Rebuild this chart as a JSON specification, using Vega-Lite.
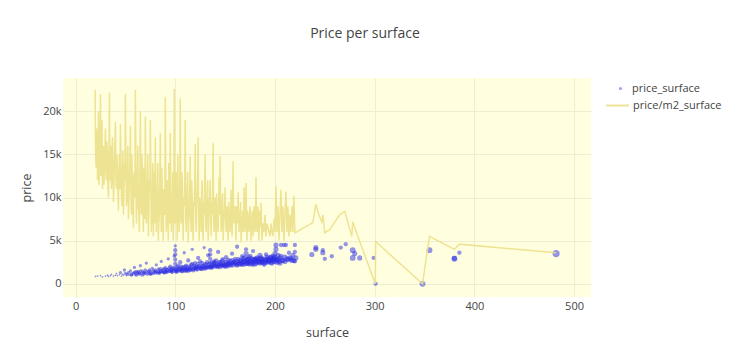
{
  "$schema": "https://vega.github.io/schema/vega-lite/v6.json",
  "width": 528,
  "height": 219,
  "autosize": {"type": "none"},
  "padding": {"left": 63, "top": 78, "right": 139, "bottom": 64},
  "background": "white",
  "title": {"text": "Price per surface", "font": "Open Sans", "fontSize": 14, "fontWeight": "normal", "color": "#444", "anchor": "middle", "dx": 38, "offset": 37},
  "datasets": {
    "line": [
      {"s":19.6,"v":22500},{"s":20,"v":16000},{"s":21,"v":14000},{"s":22,"v":12000},{"s":23,"v":20000},{"s":24,"v":13000},{"s":25,"v":22000},{"s":26,"v":14000},{"s":27,"v":11000},{"s":28,"v":16000},{"s":29,"v":13000},{"s":30,"v":18000},{"s":31,"v":12000},{"s":32,"v":15000},{"s":33,"v":10000},{"s":34,"v":22200},{"s":35,"v":13000},{"s":36,"v":11000},{"s":37,"v":17000},{"s":38,"v":9500},{"s":39,"v":14000},{"s":40,"v":18800},{"s":41,"v":11000},{"s":42,"v":13000},{"s":43,"v":8500},{"s":44,"v":15000},{"s":45,"v":18500},{"s":46,"v":10000},{"s":47,"v":12000},{"s":48,"v":8000},{"s":49,"v":14000},{"s":50,"v":22000},{"s":51,"v":9000},{"s":52,"v":13000},{"s":53,"v":7500},{"s":54,"v":12000},{"s":55,"v":18300},{"s":56,"v":8000},{"s":57,"v":11000},{"s":58,"v":6500},{"s":59,"v":13000},{"s":60,"v":22500},{"s":61,"v":7000},{"s":62,"v":12000},{"s":63,"v":9000},{"s":64,"v":6000},{"s":65,"v":20000},{"s":66,"v":8000},{"s":67,"v":13000},{"s":68,"v":6000},{"s":69,"v":10000},{"s":70,"v":19400},{"s":71,"v":7000},{"s":72,"v":11000},{"s":73,"v":5500},{"s":74,"v":12000},{"s":75,"v":19000},{"s":76,"v":6000},{"s":77,"v":9000},{"s":78,"v":5500},{"s":79,"v":13000},{"s":80,"v":17000},{"s":81,"v":6000},{"s":82,"v":10000},{"s":83,"v":5000},{"s":84,"v":8000},{"s":85,"v":17500},{"s":86,"v":6000},{"s":87,"v":11000},{"s":88,"v":5000},{"s":89,"v":9000},{"s":90,"v":21700},{"s":91,"v":6000},{"s":92,"v":12000},{"s":93,"v":5000},{"s":94,"v":10000},{"s":95,"v":17500},{"s":96,"v":6000},{"s":97,"v":9000},{"s":98,"v":5000},{"s":99,"v":22600},{"s":100,"v":7000},{"s":101,"v":13000},{"s":102,"v":5000},{"s":103,"v":10000},{"s":104,"v":6000},{"s":105,"v":21500},{"s":106,"v":7000},{"s":107,"v":12000},{"s":108,"v":5000},{"s":109,"v":9000},{"s":110,"v":19000},{"s":111,"v":6000},{"s":112,"v":11000},{"s":113,"v":4800},{"s":114,"v":8000},{"s":115,"v":14800},{"s":116,"v":6000},{"s":117,"v":10000},{"s":118,"v":5000},{"s":119,"v":9000},{"s":120,"v":16200},{"s":121,"v":6000},{"s":122,"v":11000},{"s":123,"v":17000},{"s":124,"v":5000},{"s":125,"v":9000},{"s":126,"v":6000},{"s":127,"v":12000},{"s":128,"v":5000},{"s":129,"v":8000},{"s":130,"v":15000},{"s":131,"v":6000},{"s":132,"v":10000},{"s":133,"v":5000},{"s":134,"v":9000},{"s":135,"v":12000},{"s":136,"v":5500},{"s":137,"v":8000},{"s":138,"v":16300},{"s":139,"v":6000},{"s":140,"v":10000},{"s":141,"v":5000},{"s":142,"v":8000},{"s":143,"v":6000},{"s":144,"v":12400},{"s":145,"v":14800},{"s":146,"v":6000},{"s":147,"v":9000},{"s":148,"v":5000},{"s":149,"v":8000},{"s":150,"v":11200},{"s":151,"v":6000},{"s":152,"v":9000},{"s":153,"v":5000},{"s":154,"v":8000},{"s":155,"v":6000},{"s":156,"v":10900},{"s":157,"v":5500},{"s":158,"v":14200},{"s":159,"v":7000},{"s":160,"v":9000},{"s":161,"v":5000},{"s":162,"v":8000},{"s":163,"v":10600},{"s":164,"v":6000},{"s":165,"v":8000},{"s":166,"v":4800},{"s":167,"v":7000},{"s":168,"v":6000},{"s":169,"v":11200},{"s":170,"v":6000},{"s":171,"v":11700},{"s":172,"v":5000},{"s":173,"v":8000},{"s":174,"v":6000},{"s":175,"v":9000},{"s":176,"v":5000},{"s":177,"v":7000},{"s":178,"v":5500},{"s":179,"v":9000},{"s":180,"v":6000},{"s":181,"v":12400},{"s":182,"v":6000},{"s":183,"v":9000},{"s":184,"v":5000},{"s":185,"v":7000},{"s":186,"v":9400},{"s":187,"v":5000},{"s":188,"v":7000},{"s":189,"v":6000},{"s":190,"v":8000},{"s":191,"v":5500},{"s":192,"v":7000},{"s":193,"v":6500},{"s":194,"v":6000},{"s":195,"v":5500},{"s":196,"v":7000},{"s":197,"v":6000},{"s":198,"v":5500},{"s":199,"v":7500},{"s":200,"v":6000},{"s":201,"v":11300},{"s":202,"v":6000},{"s":203,"v":9000},{"s":204,"v":5000},{"s":205,"v":8000},{"s":206,"v":10900},{"s":207,"v":6000},{"s":208,"v":9000},{"s":209,"v":5000},{"s":210,"v":8000},{"s":211,"v":10700},{"s":212,"v":6000},{"s":213,"v":9000},{"s":214,"v":5500},{"s":215,"v":8000},{"s":216,"v":6000},{"s":217,"v":9000},{"s":218,"v":6000},{"s":219,"v":10200},{"s":220,"v":5900},{"s":238,"v":7100},{"s":241,"v":9200},{"s":244,"v":8000},{"s":247,"v":7200},{"s":248,"v":8000},{"s":250,"v":5900},{"s":255,"v":6300},{"s":265,"v":8000},{"s":270,"v":8400},{"s":277,"v":5500},{"s":278,"v":7200},{"s":280,"v":6500},{"s":300.6,"v":0},{"s":301,"v":4900},{"s":348,"v":0},{"s":355,"v":5500},{"s":380,"v":4000},{"s":385,"v":4600},{"s":482,"v":3600},
      {"s":20.5,"v":13500},{"s":21.5,"v":18000},{"s":22.5,"v":15000},{"s":23.5,"v":11500},{"s":24.5,"v":17000},{"s":25.5,"v":12500},{"s":26.5,"v":19000},{"s":27.5,"v":13000},{"s":28.5,"v":11500},{"s":29.5,"v":15500},{"s":30.5,"v":13500},{"s":31.5,"v":16500},{"s":32.5,"v":11000},{"s":33.5,"v":14000},{"s":34.5,"v":12000},{"s":35.5,"v":16000},{"s":36.5,"v":12500},{"s":37.5,"v":14500},{"s":38.5,"v":11500},{"s":39.5,"v":16500},{"s":40.5,"v":12000},{"s":41.5,"v":15000},{"s":42.5,"v":10500},{"s":43.5,"v":13000},{"s":44.5,"v":11000},{"s":45.5,"v":14000},{"s":46.5,"v":9000},{"s":47.5,"v":15500},{"s":48.5,"v":10500},{"s":49.5,"v":12000},{"s":50.5,"v":14500},{"s":51.5,"v":10000},{"s":52.5,"v":16000},{"s":53.5,"v":9500},{"s":54.5,"v":14000},{"s":55.5,"v":11000},{"s":56.5,"v":15000},{"s":57.5,"v":8500},{"s":58.5,"v":12500},{"s":59.5,"v":10000},{"s":60.5,"v":14000},{"s":61.5,"v":9500},{"s":62.5,"v":16000},{"s":63.5,"v":8000},{"s":64.5,"v":12500},{"s":65.5,"v":10000},{"s":66.5,"v":15000},{"s":67.5,"v":8500},{"s":68.5,"v":13500},{"s":69.5,"v":7500},{"s":70.5,"v":12000},{"s":71.5,"v":9000},{"s":72.5,"v":15000},{"s":73.5,"v":8000},{"s":74.5,"v":10500},{"s":75.5,"v":13000},{"s":76.5,"v":7500},{"s":77.5,"v":14000},{"s":78.5,"v":9000},{"s":79.5,"v":7000},{"s":80.5,"v":11500},{"s":81.5,"v":8500},{"s":82.5,"v":14000},{"s":83.5,"v":7000},{"s":84.5,"v":12000},{"s":85.5,"v":9000},{"s":86.5,"v":13500},{"s":87.5,"v":6500},{"s":88.5,"v":11000},{"s":89.5,"v":8000},{"s":90.5,"v":13000},{"s":91.5,"v":7500},{"s":92.5,"v":9500},{"s":93.5,"v":14000},{"s":94.5,"v":7000},{"s":95.5,"v":11000},{"s":96.5,"v":8500},{"s":97.5,"v":13000},{"s":98.5,"v":7000},{"s":99.5,"v":11500},{"s":100.5,"v":9000},{"s":101.5,"v":8000},{"s":102.5,"v":15000},{"s":103.5,"v":7000},{"s":104.5,"v":11000},{"s":105.5,"v":8500},{"s":106.5,"v":13000},{"s":107.5,"v":7000},{"s":108.5,"v":10000},{"s":109.5,"v":12000},{"s":110.5,"v":7500},{"s":111.5,"v":9500},{"s":112.5,"v":13000},{"s":113.5,"v":7000},{"s":114.5,"v":10500},{"s":115.5,"v":8000},{"s":116.5,"v":12000},{"s":117.5,"v":7000},{"s":118.5,"v":9500},{"s":119.5,"v":11000},{"s":120.5,"v":7500},{"s":121.5,"v":9000},{"s":122.5,"v":13000},{"s":123.5,"v":7000},{"s":124.5,"v":10000},{"s":125.5,"v":8000},{"s":126.5,"v":11000},{"s":127.5,"v":6500},{"s":128.5,"v":9500},{"s":129.5,"v":11500},{"s":130.5,"v":7000},{"s":131.5,"v":8500},{"s":132.5,"v":12000},{"s":133.5,"v":6500},{"s":134.5,"v":10000},{"s":135.5,"v":8000},{"s":136.5,"v":9500},{"s":137.5,"v":11000},{"s":138.5,"v":7000},{"s":139.5,"v":9000},{"s":140.5,"v":7000},{"s":141.5,"v":10500},{"s":142.5,"v":6500},{"s":143.5,"v":9000},{"s":144.5,"v":8000},{"s":145.5,"v":9500},{"s":146.5,"v":7000},{"s":147.5,"v":10500},{"s":148.5,"v":6500},{"s":149.5,"v":9000},{"s":150.5,"v":7500},{"s":151.5,"v":8500},{"s":152.5,"v":6500},{"s":153.5,"v":9500},{"s":154.5,"v":7000},{"s":155.5,"v":8500},{"s":156.5,"v":7000},{"s":157.5,"v":9000},{"s":158.5,"v":7500},{"s":159.5,"v":8500},{"s":160.5,"v":6500},{"s":161.5,"v":9000},{"s":162.5,"v":7000},{"s":163.5,"v":8000},{"s":164.5,"v":7000},{"s":165.5,"v":9500},{"s":166.5,"v":6500},{"s":167.5,"v":8500},{"s":168.5,"v":7000},{"s":169.5,"v":8000},{"s":170.5,"v":9000},{"s":171.5,"v":7000},{"s":172.5,"v":8500},{"s":173.5,"v":6500},{"s":174.5,"v":7500},{"s":175.5,"v":8000},{"s":176.5,"v":6500},{"s":177.5,"v":8500},{"s":178.5,"v":7000},{"s":179.5,"v":7500},{"s":180.5,"v":8000},{"s":181.5,"v":7000},{"s":182.5,"v":8000},{"s":183.5,"v":6500},{"s":184.5,"v":8500},{"s":185.5,"v":6500}
    ],
    "pts": [
      {"s":20,"p":850,"r":1},{"s":22,"p":900,"r":1},{"s":25,"p":950,"r":1},{"s":27,"p":800,"r":1},{"s":30,"p":900,"r":1},{"s":32,"p":1000,"r":1},{"s":33,"p":850,"r":1},{"s":35,"p":950,"r":1},{"s":36,"p":1100,"r":1},{"s":38,"p":900,"r":1},{"s":40,"p":1000,"r":1},{"s":41,"p":1200,"r":1},{"s":42,"p":950,"r":1},{"s":44,"p":1050,"r":1},{"s":45,"p":1300,"r":2},{"s":46,"p":900,"r":1},{"s":47,"p":1100,"r":1},{"s":48,"p":1000,"r":1},{"s":49,"p":1600,"r":2},{"s":50,"p":1200,"r":2},{"s":51,"p":950,"r":1},{"s":52,"p":1100,"r":2},{"s":53,"p":1300,"r":2},{"s":54,"p":1000,"r":1},{"s":55,"p":1500,"r":2},{"s":56,"p":1150,"r":2},{"s":57,"p":1000,"r":1},{"s":58,"p":1250,"r":2},{"s":59,"p":1900,"r":2},{"s":60,"p":1100,"r":2},{"s":60,"p":1400,"r":2},{"s":61,"p":1000,"r":2},{"s":62,"p":1200,"r":2},{"s":63,"p":1350,"r":2},{"s":64,"p":1100,"r":2},{"s":65,"p":1500,"r":2},{"s":65,"p":2100,"r":2},{"s":66,"p":1200,"r":2},{"s":67,"p":1000,"r":2},{"s":68,"p":1300,"r":2},{"s":69,"p":1150,"r":2},{"s":70,"p":1600,"r":2},{"s":70,"p":1250,"r":2},{"s":71,"p":2400,"r":2},{"s":72,"p":1100,"r":2},{"s":73,"p":1350,"r":2},{"s":74,"p":1200,"r":2},{"s":75,"p":1500,"r":2},{"s":75,"p":1100,"r":2},{"s":76,"p":1300,"r":2},{"s":77,"p":1800,"r":2},{"s":78,"p":1200,"r":2},{"s":79,"p":1400,"r":2},{"s":80,"p":1300,"r":3},{"s":80,"p":1600,"r":2},{"s":81,"p":2200,"r":2},{"s":82,"p":1250,"r":2},{"s":83,"p":1450,"r":2},{"s":84,"p":1300,"r":2},{"s":85,"p":1700,"r":3},{"s":85,"p":1350,"r":2},{"s":86,"p":2600,"r":2},{"s":87,"p":1400,"r":2},{"s":88,"p":1300,"r":2},{"s":89,"p":1550,"r":3},{"s":90,"p":1400,"r":3},{"s":90,"p":1900,"r":2},{"s":91,"p":1350,"r":2},{"s":92,"p":1600,"r":3},{"s":93,"p":2900,"r":2},{"s":94,"p":1450,"r":2},{"s":95,"p":1500,"r":3},{"s":95,"p":2000,"r":3},{"s":96,"p":1400,"r":2},{"s":97,"p":1700,"r":3},{"s":98,"p":1500,"r":2},{"s":99,"p":3200,"r":2},{"s":100,"p":1500,"r":3},{"s":100,"p":1800,"r":3},{"s":100,"p":2300,"r":3},{"s":100,"p":2800,"r":3},{"s":100,"p":3400,"r":3},{"s":100,"p":3900,"r":3},{"s":100,"p":4400,"r":2},{"s":101,"p":1600,"r":3},{"s":102,"p":1450,"r":3},{"s":103,"p":2100,"r":3},{"s":104,"p":1550,"r":3},{"s":105,"p":1700,"r":3},{"s":105,"p":2500,"r":3},{"s":106,"p":1500,"r":3},{"s":107,"p":1800,"r":3},{"s":108,"p":1600,"r":3},{"s":109,"p":3600,"r":2},{"s":110,"p":1700,"r":3},{"s":110,"p":2000,"r":3},{"s":111,"p":1550,"r":3},{"s":112,"p":1800,"r":3},{"s":113,"p":2700,"r":3},{"s":114,"p":1650,"r":3},{"s":115,"p":1900,"r":3},{"s":115,"p":1600,"r":3},{"s":116,"p":2200,"r":3},{"s":117,"p":4000,"r":2},{"s":118,"p":1700,"r":3},{"s":119,"p":1900,"r":3},{"s":120,"p":1800,"r":3},{"s":120,"p":2400,"r":3},{"s":121,"p":1700,"r":3},{"s":122,"p":2000,"r":3},{"s":123,"p":3000,"r":3},{"s":124,"p":1800,"r":3},{"s":125,"p":1900,"r":3},{"s":125,"p":2600,"r":3},{"s":126,"p":1750,"r":3},{"s":127,"p":2100,"r":3},{"s":128,"p":1850,"r":3},{"s":129,"p":4200,"r":2},{"s":130,"p":1900,"r":3},{"s":130,"p":2300,"r":3},{"s":131,"p":1800,"r":3},{"s":132,"p":2000,"r":3},{"s":133,"p":3300,"r":3},{"s":134,"p":1900,"r":3},{"s":135,"p":2000,"r":3},{"s":135,"p":2400,"r":3},{"s":135,"p":2900,"r":3},{"s":135,"p":3400,"r":3},{"s":135,"p":3900,"r":3},{"s":136,"p":2100,"r":3},{"s":137,"p":1900,"r":3},{"s":138,"p":2200,"r":3},{"s":139,"p":2600,"r":3},{"s":140,"p":2000,"r":3},{"s":140,"p":2400,"r":4},{"s":141,"p":2100,"r":3},{"s":142,"p":1950,"r":3},{"s":143,"p":3700,"r":3},{"s":144,"p":2200,"r":3},{"s":145,"p":2000,"r":4},{"s":145,"p":2500,"r":3},{"s":146,"p":2300,"r":3},{"s":147,"p":2100,"r":3},{"s":148,"p":2800,"r":4},{"s":149,"p":2200,"r":3},{"s":150,"p":2300,"r":4},{"s":150,"p":2000,"r":3},{"s":151,"p":3100,"r":3},{"s":152,"p":2200,"r":4},{"s":153,"p":2400,"r":3},{"s":154,"p":2100,"r":3},{"s":155,"p":2600,"r":4},{"s":156,"p":2300,"r":3},{"s":157,"p":3500,"r":3},{"s":158,"p":2200,"r":4},{"s":159,"p":2500,"r":4},{"s":160,"p":2400,"r":4},{"s":160,"p":2900,"r":3},{"s":161,"p":2200,"r":3},{"s":162,"p":4300,"r":3},{"s":163,"p":2500,"r":4},{"s":164,"p":2300,"r":4},{"s":165,"p":2700,"r":4},{"s":166,"p":2400,"r":4},{"s":167,"p":3200,"r":3},{"s":168,"p":2500,"r":4},{"s":169,"p":2200,"r":3},{"s":170,"p":2600,"r":4},{"s":170,"p":3000,"r":4},{"s":171,"p":3500,"r":4},{"s":171,"p":4000,"r":3},{"s":172,"p":2400,"r":4},{"s":173,"p":2800,"r":4},{"s":174,"p":2600,"r":4},{"s":175,"p":3200,"r":4},{"s":175,"p":2300,"r":4},{"s":176,"p":2700,"r":4},{"s":177,"p":2500,"r":4},{"s":178,"p":3800,"r":3},{"s":179,"p":2600,"r":4},{"s":180,"p":2800,"r":4},{"s":181,"p":2400,"r":4},{"s":182,"p":3000,"r":4},{"s":183,"p":2700,"r":4},{"s":184,"p":2500,"r":4},{"s":185,"p":3300,"r":4},{"s":186,"p":2600,"r":4},{"s":187,"p":2900,"r":4},{"s":188,"p":2500,"r":4},{"s":189,"p":2200,"r":3},{"s":190,"p":2700,"r":4},{"s":191,"p":3400,"r":3},{"s":192,"p":2600,"r":4},{"s":193,"p":2900,"r":4},{"s":194,"p":2700,"r":5},{"s":195,"p":3000,"r":4},{"s":196,"p":2500,"r":4},{"s":197,"p":2800,"r":4},{"s":198,"p":3200,"r":4},{"s":199,"p":2600,"r":4},{"s":200,"p":2700,"r":5},{"s":200,"p":3000,"r":5},{"s":200,"p":3500,"r":4},{"s":201,"p":4500,"r":4},{"s":201,"p":4000,"r":4},{"s":202,"p":2800,"r":4},{"s":203,"p":3300,"r":4},{"s":205,"p":3000,"r":4},{"s":206,"p":4500,"r":3},{"s":207,"p":2700,"r":4},{"s":209,"p":4500,"r":3},{"s":210,"p":3100,"r":4},{"s":211,"p":4500,"r":3},{"s":212,"p":2900,"r":4},{"s":214,"p":3600,"r":3},{"s":215,"p":3000,"r":4},{"s":217,"p":2700,"r":4},{"s":218,"p":3300,"r":4},{"s":220,"p":4500,"r":3},{"s":220,"p":3700,"r":3},{"s":220,"p":2600,"r":3},{"s":221,"p":3000,"r":4},
      {"s":237,"p":3400,"r":4},{"s":241,"p":4200,"r":4},{"s":241,"p":4000,"r":4},{"s":248,"p":3600,"r":4},{"s":248,"p":3900,"r":3},{"s":250,"p":2900,"r":3},{"s":257,"p":3200,"r":3},{"s":266,"p":4200,"r":3},{"s":271,"p":4600,"r":3},{"s":278,"p":3900,"r":5},{"s":278,"p":3000,"r":5},{"s":280,"p":3500,"r":4},{"s":285,"p":3000,"r":4},{"s":299,"p":3000,"r":3},{"s":301,"p":0,"r":3},{"s":348,"p":0,"r":5},{"s":355,"p":3900,"r":5},{"s":380,"p":2900,"r":5},{"s":380,"p":2950,"r":4},{"s":385,"p":3600,"r":3},{"s":482,"p":3500,"r":7},
      {"s":56,"p":1000,"r":2},{"s":59,"p":1300,"r":2},{"s":62,"p":1450,"r":2},{"s":64,"p":1250,"r":2},{"s":67,"p":1500,"r":2},{"s":69,"p":1350,"r":2},{"s":72,"p":1450,"r":2},{"s":74,"p":1600,"r":2},{"s":76,"p":1150,"r":2},{"s":78,"p":1550,"r":2},{"s":81,"p":1400,"r":2},{"s":83,"p":1700,"r":2},{"s":84,"p":1200,"r":2},{"s":86,"p":1500,"r":3},{"s":88,"p":1750,"r":2},{"s":89,"p":1250,"r":2},{"s":91,"p":1650,"r":3},{"s":92,"p":1350,"r":2},{"s":94,"p":1800,"r":3},{"s":96,"p":1600,"r":3},{"s":97,"p":1300,"r":2},{"s":98,"p":1850,"r":3},{"s":101,"p":1400,"r":3},{"s":102,"p":1900,"r":3},{"s":104,"p":1750,"r":3},{"s":106,"p":2000,"r":3},{"s":107,"p":1450,"r":3},{"s":108,"p":1900,"r":3},{"s":110,"p":1500,"r":3},{"s":111,"p":2100,"r":3},{"s":112,"p":1650,"r":3},{"s":113,"p":1500,"r":3},{"s":114,"p":2000,"r":3},{"s":116,"p":1750,"r":3},{"s":117,"p":2300,"r":3},{"s":118,"p":1550,"r":3},{"s":119,"p":2100,"r":3},{"s":121,"p":1950,"r":3},{"s":122,"p":1650,"r":3},{"s":123,"p":2300,"r":3},{"s":124,"p":2050,"r":3},{"s":126,"p":1700,"r":3},{"s":127,"p":2400,"r":3},{"s":128,"p":2050,"r":3},{"s":129,"p":1750,"r":3},{"s":131,"p":2200,"r":3},{"s":132,"p":2500,"r":3},{"s":133,"p":1900,"r":3},{"s":134,"p":2300,"r":3},{"s":136,"p":1850,"r":3},{"s":137,"p":2500,"r":3},{"s":138,"p":2000,"r":3},{"s":139,"p":2300,"r":3},{"s":141,"p":2700,"r":3},{"s":142,"p":2250,"r":3},{"s":143,"p":2000,"r":3},{"s":144,"p":2500,"r":3},{"s":146,"p":2100,"r":3},{"s":147,"p":2700,"r":3},{"s":148,"p":2250,"r":3},{"s":149,"p":2000,"r":3},{"s":151,"p":2500,"r":4},{"s":152,"p":2000,"r":3},{"s":153,"p":2800,"r":3},{"s":154,"p":2350,"r":4},{"s":156,"p":2100,"r":3},{"s":157,"p":2700,"r":4},{"s":158,"p":2450,"r":3},{"s":161,"p":2600,"r":4},{"s":162,"p":2100,"r":3},{"s":163,"p":2900,"r":3},{"s":165,"p":2300,"r":4},{"s":166,"p":2700,"r":4},{"s":167,"p":2200,"r":3},{"s":168,"p":2950,"r":4},{"s":169,"p":2600,"r":4},{"s":171,"p":2350,"r":4},{"s":172,"p":2800,"r":4},{"s":173,"p":2300,"r":3},{"s":174,"p":3000,"r":4},{"s":176,"p":2400,"r":4},{"s":177,"p":2900,"r":4},{"s":178,"p":2200,"r":3},{"s":179,"p":2800,"r":4},{"s":180,"p":2300,"r":4},{"s":181,"p":2900,"r":4},{"s":182,"p":2600,"r":4},{"s":184,"p":2900,"r":4},{"s":185,"p":2400,"r":4},{"s":186,"p":3000,"r":4},{"s":187,"p":2500,"r":4},{"s":188,"p":2800,"r":4},{"s":190,"p":2400,"r":4},{"s":191,"p":2800,"r":4},{"s":192,"p":3100,"r":4},{"s":193,"p":2500,"r":4},{"s":195,"p":2700,"r":4},{"s":196,"p":3100,"r":4},{"s":197,"p":2400,"r":4},{"s":198,"p":2900,"r":4},{"s":199,"p":3000,"r":4},{"s":202,"p":2500,"r":4},{"s":203,"p":2800,"r":4},{"s":204,"p":2600,"r":4},{"s":205,"p":2400,"r":4},{"s":206,"p":3200,"r":4},{"s":208,"p":2700,"r":4},{"s":210,"p":2600,"r":4},{"s":213,"p":2800,"r":4},{"s":216,"p":2900,"r":4},{"s":219,"p":2700,"r":4}
    ]
  },
  "resolve": {"scale": {"color": "independent"}},
  "layer": [
    {
      "mark": {"type": "rule", "color": "#444", "strokeWidth": 1.5},
      "encoding": {"x": {"datum": 0, "type": "quantitative"}}
    },
    {
      "mark": {"type": "rule", "color": "#444", "strokeWidth": 1.5},
      "encoding": {"y": {"datum": 0, "type": "quantitative"}}
    },
    {
      "data": {"name": "pts"},
      "mark": {"type": "point", "filled": true, "opacity": 0.5},
      "encoding": {
        "x": {"field": "s", "type": "quantitative"},
        "y": {"field": "p", "type": "quantitative"},
        "size": {"field": "r", "type": "quantitative", "scale": {"domain": [1, 7], "range": [3, 50]}, "legend": null},
        "color": {"datum": "price_surface", "scale": {"range": ["#2a2ae6"]},
                  "legend": {"title": null, "orient": "none", "legendX": 552, "legendY": 5,
                             "symbolType": "circle", "symbolSize": 10, "symbolOpacity": 0.45,
                             "labelFont": "Open Sans", "labelFontSize": 11, "labelColor": "#444", "labelOffset": 6}}
      }
    },
    {
      "data": {"name": "line"},
      "mark": {"type": "line", "strokeWidth": 1.5, "opacity": 0.9},
      "encoding": {
        "x": {"field": "s", "type": "quantitative", "title": "surface",
              "scale": {"domain": [-12.6, 517], "nice": false, "zero": false},
              "axis": {"values": [0, 100, 200, 300, 400, 500], "labelPadding": 3, "titlePadding": 15}},
        "y": {"field": "v", "type": "quantitative", "title": "price",
              "scale": {"domain": [-1530, 23870], "nice": false, "zero": false},
              "axis": {"values": [0, 5000, 10000, 15000, 20000], "labelExpr": "datum.value === 0 ? '0' : (datum.value / 1000) + 'k'", "labelPadding": 2, "titlePadding": 9}},
        "color": {"datum": "price/m2_surface", "scale": {"range": ["#ece08a"]},
                  "legend": {"title": null, "orient": "none", "legendX": 542, "legendY": 15,
                             "symbolType": "stroke", "symbolSize": 520, "symbolStrokeWidth": 2,
                             "labelFont": "Open Sans", "labelFontSize": 11, "labelColor": "#444", "labelOffset": 3}}
      }
    }
  ],
  "config": {
    "view": {"fill": "#ffffe0", "stroke": null},
    "axis": {"domain": false, "ticks": false, "grid": true, "gridColor": "#efeed2", "gridWidth": 1,
             "labelFont": "Open Sans", "labelFontSize": 11, "labelColor": "#444",
             "titleFont": "Open Sans", "titleFontSize": 12.5, "titleFontWeight": "normal", "titleColor": "#444"}
  }
}
